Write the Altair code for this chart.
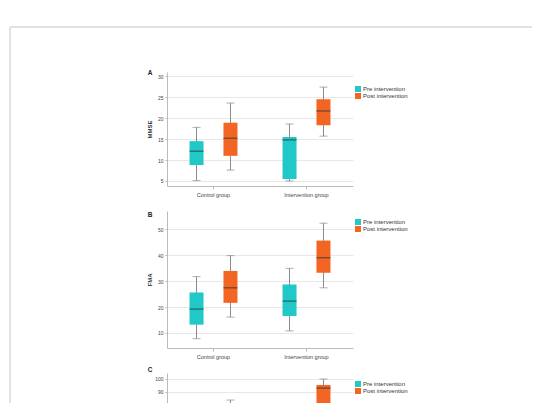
import altair as alt
import pandas as pd

groups = ["Control group", "Intervention group"]
times = ["Pre intervention", "Post intervention"]
colors = ["#20c8c8", "#f26522"]

# order: control-pre, control-post, intervention-pre, intervention-post
row_group = ["Control group", "Control group", "Intervention group", "Intervention group"]
row_time = ["Pre intervention", "Post intervention", "Pre intervention", "Post intervention"]

a_low = [5.1, 7.6, 5.0, 15.7]
a_q1 = [8.8, 11.0, 5.5, 18.3]
a_med = [12.1, 15.2, 14.8, 21.7]
a_q3 = [14.5, 18.9, 15.5, 24.5]
a_high = [17.8, 23.6, 18.6, 27.4]
a_ticks = [5, 10, 15, 20, 25, 30]

b_low = [7.8, 16.1, 10.8, 27.4]
b_q1 = [13.2, 21.6, 16.5, 33.2]
b_med = [19.2, 27.4, 22.3, 39.0]
b_q3 = [25.6, 33.9, 28.7, 45.6]
b_high = [31.7, 39.8, 34.9, 52.3]
b_ticks = [10, 20, 30, 40, 50]

c_low = [25, 40, 28, 70]
c_q1 = [40, 52, 42, 80]
c_med = [50, 62, 52, 93]
c_q3 = [60, 72, 62, 95.4]
c_high = [74, 83.8, 73, 100]
c_ticks = [10, 20, 30, 40, 50, 60, 70, 80, 90, 100]

panel_letters = ["A", "B", "C"]
FONT = "Liberation Sans"


def make_df(low, q1, med, q3, high):
    return pd.DataFrame({"group": row_group, "time": row_time, "low": low,
                         "q1": q1, "med": med, "q3": q3, "high": high})


def panel(df, label, label_y, legend_y, ytitle, domain, ticks, height, frame=False):
    xaxis = alt.Axis(title=None, labelAngle=0, labelFontSize=5.5, labelPadding=3, tickSize=3,
                     domainColor="#bbbbbb", tickColor="#bbbbbb",
                     labelColor="#444444", labelFont=FONT)
    base = alt.Chart(df).encode(
        x=alt.X("group:N", sort=groups, axis=xaxis,
                scale=alt.Scale(paddingInner=0, paddingOuter=0)),
        xOffset=alt.XOffset("time:N", sort=times,
                            scale=alt.Scale(paddingInner=0, paddingOuter=0.37)),
    )
    yscale = alt.Scale(domain=domain, nice=False, zero=False)
    yaxis = alt.Axis(title=ytitle, values=ticks, tickCount=len(ticks), labelOverlap=False,
                     labelFontSize=5, tickSize=2, labelPadding=2, titleFontSize=6,
                     titlePadding=5, domainColor="#bbbbbb", tickColor="#bbbbbb",
                     gridColor="#e8e8e8", labelColor="#444444", titleColor="#333333",
                     labelFont=FONT, titleFont=FONT, titleFontWeight="bold")
    whisker = base.mark_rule(color="#8a8a8a", strokeWidth=1, clip=True).encode(
        y=alt.Y("low:Q", scale=yscale, axis=yaxis), y2="high:Q")
    cap_lo = base.mark_tick(color="#8a8a8a", size=8, thickness=1, clip=True).encode(
        y=alt.Y("low:Q"))
    cap_hi = base.mark_tick(color="#8a8a8a", size=8, thickness=1, clip=True).encode(
        y=alt.Y("high:Q"))
    box = base.mark_bar(size=14, clip=True).encode(
        y="q1:Q", y2="q3:Q",
        color=alt.Color("time:N", sort=times,
                        scale=alt.Scale(domain=times, range=colors),
                        legend=alt.Legend(title=None, orient="none", legendX=188,
                                          legendY=legend_y, symbolType="square",
                                          symbolSize=36, symbolStrokeWidth=0,
                                          labelFontSize=6, labelFont=FONT,
                                          labelColor="#333333", rowPadding=1,
                                          labelOffset=2)))
    median = base.mark_tick(color="#3a3a3a", size=14, thickness=1.3, opacity=0.7,
                            clip=True).encode(y="med:Q")
    one = alt.Chart(pd.DataFrame({"k": [0]}))
    letter = one.mark_text(fontSize=6.5, fontWeight="bold", font=FONT, color="#222222",
                           align="center", baseline="middle").encode(
        text=alt.value(label), x=alt.value(-17), y=alt.value(label_y))
    layers = [whisker, cap_lo, cap_hi, box, median, letter]
    if frame:
        layers.append(one.mark_rule(color="#e2e2e2", strokeWidth=2).encode(
            x=alt.value(-157), y=alt.value(-45), y2=alt.value(520)))
        layers.append(one.mark_rule(color="#e2e2e2", strokeWidth=2).encode(
            x=alt.value(-157), x2=alt.value(365), y=alt.value(-45)))
    return alt.layer(*layers).properties(width=186, height=height)


pa = panel(make_df(a_low, a_q1, a_med, a_q3, a_high), panel_letters[0], 1, 14, "MMSE",
           [3.8, 31.0], a_ticks, 114, frame=True)
pb = panel(make_df(b_low, b_q1, b_med, b_q3, b_high), panel_letters[1], 4, 8, "FMA",
           [4.2, 57.0], b_ticks, 137)
pc = panel(make_df(c_low, c_q1, c_med, c_q3, c_high), panel_letters[2], -3, 8,
           "Barthel Index", [4.6, 104.6], c_ticks, 130)

chart = alt.vconcat(pa, pb, pc, spacing=25, bounds="flush").resolve_scale(
    color="independent"
).properties(
    padding={"left": 1, "top": 18, "right": 0, "bottom": 5},
    background="white",
).configure_view(stroke=None)

chart.save("out.html", embed_options={"renderer": "svg", "actions": False})
